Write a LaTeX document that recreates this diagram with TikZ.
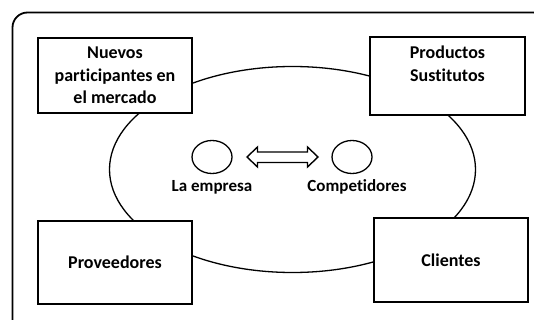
\documentclass[tikz,border=0pt]{standalone}
\usepackage{fontspec}
\setmainfont{Carlito}[Ligatures=NoCommon]
\usetikzlibrary{shapes.geometric}
\begin{document}
\begin{tikzpicture}[x=1pt,y=-1pt,
  boxst/.style={draw, line width=1.6pt, fill=white, inner sep=0pt, align=center,
    font=\fontsize{18}{22.5}\selectfont\bfseries},
  lblst/.style={inner sep=0pt, font=\fontsize{17}{20}\selectfont\bfseries},
  circst/.style={draw, ellipse, line width=1.3pt, minimum width=40pt, minimum height=33pt, inner sep=0pt}]
\useasboundingbox (0,0) rectangle (534,320);
\clip (0,0) rectangle (534,320);
\draw[line width=1.8pt, rounded corners=15pt] (12.5,12.5) rectangle (548,335);
\draw[line width=1.3pt] (292.5,169.5) ellipse [x radius=183, y radius=103];
\node[boxst, minimum width=154pt, minimum height=75pt] (nuevos) at (115,75.5)
  {Nuevos\\participantes en\\el mercado};
\node[boxst, minimum width=155pt, minimum height=78pt] (productos) at (447.5,76) {};
\node[lblst, font=\fontsize{18}{22.5}\selectfont\bfseries, align=center, anchor=center] (prodtxt) at (447.5,64)
  {Productos\\Sustitutos};
\node[boxst, minimum width=154pt, minimum height=83pt] (proveedores) at (115,262.5) {Proveedores};
\node[boxst, minimum width=154pt, minimum height=84pt] (clientes) at (451,260) {Clientes};
\node[circst] (empresa) at (212,157) {};
\node[circst] (competidores) at (352,157) {};
\node[lblst] (lempresa) at (212,187) {La empresa};
\node[lblst] (lcompetidores) at (357,187) {Competidores};
\draw[line width=1.4pt, line join=miter, fill=white]
  (247,157) -- (257.5,147) -- (257.5,152) -- (307.5,152) -- (307.5,147) -- (318,157)
  -- (307.5,167) -- (307.5,162.5) -- (257.5,162.5) -- (257.5,167) -- cycle;
\end{tikzpicture}
\end{document}
